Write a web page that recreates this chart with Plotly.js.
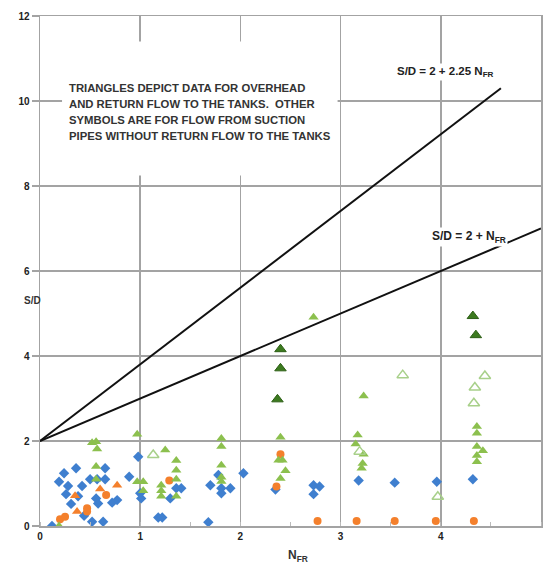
<!DOCTYPE html>
<html><head><meta charset="utf-8">
<script src="https://cdn.plot.ly/plotly-3.0.1.min.js"></script>
<style>html,body{margin:0;padding:0;background:#fff}#chart{width:544px;height:563px}</style>
</head><body><div id="chart"></div>
<script>
// ---- data ----
const blueX = [0.12,0.19,0.24,0.36,0.28,0.26,0.31,0.38,0.42,0.44,0.50,0.52,0.57,0.56,0.58,0.63,0.65,0.65,0.72,0.77,0.89,0.98,1.00,1.01,1.18,1.22,1.30,1.36,1.41,1.68,1.70,1.78,1.81,1.81,1.90,2.03,2.35,2.73,2.79,2.73,3.18,3.54,3.96,4.32];
const blueY = [0.00,1.04,1.24,1.36,0.94,0.75,0.52,0.70,0.94,0.24,1.10,0.10,1.10,0.65,0.53,0.10,1.36,1.10,0.55,0.61,1.16,1.63,0.77,0.65,0.20,0.20,0.65,0.89,0.89,0.09,0.96,1.20,0.89,0.77,0.89,1.24,0.86,0.96,0.93,0.75,1.07,1.02,1.04,1.10];

const orangeCircX = [0.20,0.25,0.47,0.47,0.66,1.29,2.40,2.36,2.77,3.16,3.54,3.95,4.33];
const orangeCircY = [0.16,0.22,0.34,0.42,0.73,1.07,1.69,0.93,0.12,0.12,0.12,0.12,0.12];

const orangeTriX = [0.35,0.37,0.60,0.77];
const orangeTriY = [0.71,0.34,0.87,0.96];

const greenX = [0.19,0.52,0.56,0.57,0.56,0.56,0.97,0.97,1.03,1.03,1.21,1.21,1.21,1.25,1.36,1.36,1.36,1.36,1.81,1.81,1.81,1.81,1.81,2.40,2.38,2.42,2.45,2.40,2.73,3.17,3.15,3.23,3.22,3.21,3.23,4.36,4.36,4.36,4.42,4.36,4.36];
const greenY = [0.00,1.96,1.98,1.81,1.40,1.10,2.16,1.04,1.04,0.83,0.96,0.83,0.70,1.79,1.54,1.31,1.10,0.70,2.06,1.87,1.43,1.15,1.05,2.09,1.55,1.55,1.30,1.12,4.91,2.14,1.93,1.69,1.47,1.36,3.06,2.34,2.18,1.87,1.77,1.66,1.51];

const darkGreenX = [2.40,2.40,2.37,4.32,4.35];
const darkGreenY = [4.16,3.71,2.98,4.94,4.49];

const openX = [1.13,3.19,3.62,4.44,4.34,4.33,3.97];
const openY = [1.67,1.75,3.55,3.53,3.26,2.89,0.69];

// design lines (as drawn in the figure)
const line225X = [0, 4.6];
const line225Y = [2, 10.3];
const line1X = [0, 5];
const line1Y = [2, 7.0];

const xTicks = [0,1,2,3,4,5];
const yTicks = [0,2,4,6,8,10,12];

const noteLines = [
  "TRIANGLES DEPICT DATA FOR OVERHEAD",
  "AND RETURN FLOW TO THE TANKS.  OTHER",
  "SYMBOLS ARE FOR FLOW FROM SUCTION",
  "PIPES WITHOUT RETURN FLOW TO THE TANKS"
];

// ---- chart ----
const FONT = "Liberation Sans, Arial, sans-serif";
const traces = [
  {x: line225X, y: line225Y, mode:'lines', line:{color:'#111', width:2}, hoverinfo:'skip'},
  {x: line1X, y: line1Y, mode:'lines', line:{color:'#111', width:2}, hoverinfo:'skip'},
  {x: blueX, y: blueY, mode:'markers', marker:{symbol:'diamond', size:8, color:'#3f7fcf'}},
  {x: orangeCircX, y: orangeCircY, mode:'markers', marker:{symbol:'circle', size:8, color:'#f4802c'}},
  {x: orangeTriX, y: orangeTriY, mode:'markers', marker:{symbol:'triangle-up', size:9, color:'#f4802c'}},
  {x: greenX, y: greenY, mode:'markers', marker:{symbol:'triangle-up', size:9, color:'#8cc04e'}},
  {x: darkGreenX, y: darkGreenY, mode:'markers', marker:{symbol:'triangle-up', size:10, color:'#3c7a1f', line:{color:'#2d5f16', width:1}}},
  {x: openX, y: openY, mode:'markers', marker:{symbol:'triangle-up-open', size:10, color:'#a8d08a', line:{width:1.5}}}
];

const annotations = noteLines.map((t, i) => ({
  text: '<b>' + t + '</b>', x: 0.27, y: 10.31 - i*0.376, xref:'x', yref:'y',
  xanchor:'left', yanchor:'middle', showarrow:false,
  font:{family:FONT, size:11.3, color:'#333'}
}));
annotations.push(
  {text:'<b>S/D = 2 + 2.25 N<sub>FR</sub></b>', x:4.05, y:10.68, xref:'x', yref:'y', showarrow:false,
   font:{family:FONT, size:11.5, color:'#222'}, bgcolor:'#fff'},
  {text:'<b>S/D = 2 + N<sub>FR</sub></b>', x:4.28, y:6.8, xref:'x', yref:'y', showarrow:false,
   font:{family:FONT, size:12, color:'#222'}, bgcolor:'#fff'},
  {text:'<b>S/D</b>', x:-0.036, y:0.443, xref:'paper', yref:'paper', showarrow:false,
   font:{family:FONT, size:10, color:'#333'}},
  {text:'<b>N<sub>FR</sub></b>', x:0.515, y:-0.04, xref:'paper', yref:'paper', yanchor:'top', showarrow:false,
   font:{family:FONT, size:12, color:'#333'}}
);

const layout = {
  width:544, height:563,
  margin:{l:40, r:3, t:16, b:37},
  paper_bgcolor:'#fff', plot_bgcolor:'#fff',
  showlegend:false,
  font:{family:FONT, size:10, color:'#222'},
  xaxis:{range:[0,5], tickvals:xTicks, ticktext:xTicks.map(String),
    showgrid:true, gridcolor:'#a3a3a3', gridwidth:1.5, zeroline:false,
    showline:true, mirror:true, linecolor:'#a3a3a3', linewidth:1.5,
    ticks:'', tickfont:{family:FONT, size:10, color:'#222', weight:'bold'},
    minor:{dtick:0.5, ticks:'inside', ticklen:4, tickcolor:'#bbb', showgrid:false}},
  yaxis:{range:[0,12], tickvals:yTicks, ticktext:yTicks.map(String),
    showgrid:true, gridcolor:'#a3a3a3', gridwidth:1.5, zeroline:false,
    showline:true, mirror:true, linecolor:'#a3a3a3', linewidth:1.5,
    ticks:'outside', ticklen:7, tickcolor:'#a3a3a3', tickwidth:1.5,
    tickfont:{family:FONT, size:10, color:'#222', weight:'bold'}},
  shapes:[
    {type:'rect', xref:'x', yref:'y', x0:0.22, x1:2.97, y0:8.25, y1:11.4,
     fillcolor:'#fff', line:{width:0}, layer:'between'}
  ],
  annotations: annotations
};

Plotly.newPlot('chart', traces, layout, {staticPlot:true, displayModeBar:false});
</script>
</body></html>
